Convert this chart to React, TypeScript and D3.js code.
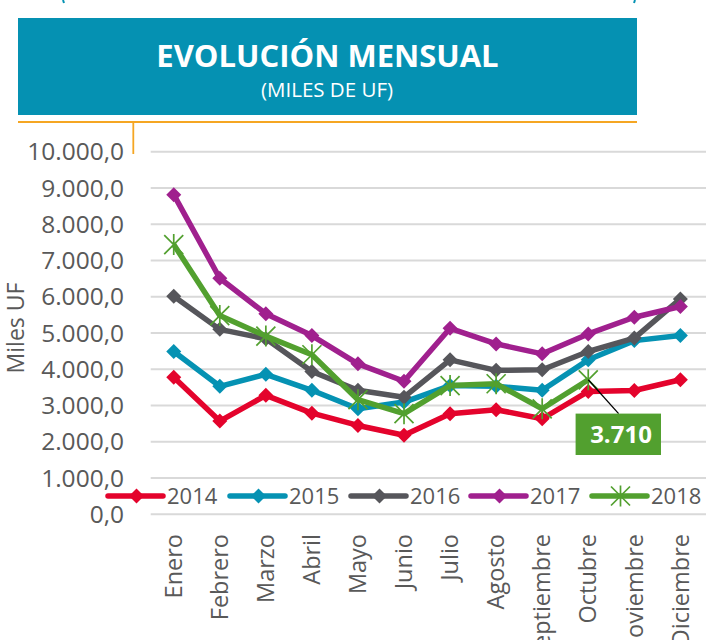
import React from "react";
import * as d3 from "d3";

const months = ["Enero","Febrero","Marzo","Abril","Mayo","Junio","Julio","Agosto","Septiembre","Octubre","Noviembre","Diciembre"];
const yTicks = [0,1000,2000,3000,4000,5000,6000,7000,8000,9000,10000];
const years = ["2014","2015","2016","2017","2018"];
const s2014 = [3780,2570,3280,2790,2450,2180,2775,2885,2635,3390,3415,3710];
const s2015 = [4490,3530,3860,3420,2910,3095,3550,3530,3420,4260,4790,4930];
const s2016 = [6015,5100,4840,3940,3420,3230,4260,3970,3985,4490,4860,5940];
const s2017 = [8815,6510,5530,4930,4150,3670,5130,4700,4425,4975,5435,5730];
const s2018 = [7440,5480,4915,4400,3160,2775,3550,3600,2910,3710];
const colors = ["#E4032C","#0592B3","#56565B","#A0208E","#52A02F"];
const annotationLabel = "3.710";

const W = 706, H = 640;
const FONT = "'Open Sans', sans-serif";

export default function App() {
  const series = [s2014, s2015, s2016, s2017, s2018];
  const x = d3.scaleBand<string>().domain(months).range([150.7, 703.4]).padding(0);
  const cx = (m: string) => (x(m) as number) + x.bandwidth() / 2;
  const y = d3.scaleLinear().domain([0, 10000]).range([514.3, 151.7]);
  const fmt = (v: number) => {
    const s = d3.format(",.1f")(v);
    return s.replace(/,/g, "#").replace(".", ",").replace(/#/g, ".");
  };
  const line = d3.line<number>().x((_, i) => cx(months[i])).y((d) => y(d));
  const diamond = "M0,-7.5L7.5,0L0,7.5L-7.5,0Z";
  const star = "M-9.5,-9.5L9.5,9.5M-9.5,9.5L9.5,-9.5M0,-10.5L0,10.5";

  const marker = (k: number, px: number, py: number, key: string) =>
    k === 4 ? (
      <path key={key} d={star} transform={`translate(${px},${py})`} stroke={colors[k]} strokeWidth={1.7} fill="none" />
    ) : (
      <path key={key} d={diamond} transform={`translate(${px},${py})`} fill={colors[k]} />
    );

  const legendX = [108, 230, 351, 471, 592];
  const lastIdx = s2018.length - 1;
  const ax = cx(months[lastIdx]);
  const ay = y(s2018[lastIdx]);

  return (
    <svg width={W} height={H} style={{ display: "block", position: "absolute", left: 0, top: 0 }} fontFamily={FONT}>
      <rect x={0} y={0} width={W} height={H} fill="#ffffff" />
      {/* top bracket ends */}
      <path d="M63,0 L64,3" stroke="#0592B3" strokeWidth={2} fill="none" />
      <path d="M635,0 L634,3" stroke="#0592B3" strokeWidth={2} fill="none" />
      {/* header */}
      <rect x={18} y={18} width={619} height={97} fill="#0591B2" />
      <text x={327.5} y={66.5} textAnchor="middle" fill="#ffffff" fontWeight={700} fontSize={31}>EVOLUCIÓN MENSUAL</text>
      <text x={327} y={97} textAnchor="middle" fill="#ffffff" fontSize={20.5}>(MILES DE UF)</text>
      {/* orange rule */}
      <line x1={18} x2={637} y1={122} y2={122} stroke="#F5A623" strokeWidth={1.8} />
      <line x1={133.3} x2={133.3} y1={122} y2={154} stroke="#F5A623" strokeWidth={1.8} />
      {/* gridlines */}
      {yTicks.map((t) => (
        <line key={"g" + t} x1={150.7} x2={706} y1={y(t)} y2={y(t)} stroke="#D9D9D9" strokeWidth={2} />
      ))}
      {/* y tick labels */}
      {yTicks.map((t) => (
        <text key={"t" + t} x={124} y={y(t)} dy="0.35em" textAnchor="end" fill="#595959" fontSize={24.5}>{fmt(t)}</text>
      ))}
      {/* y title */}
      <text transform="translate(23.5,328) rotate(-90)" textAnchor="middle" fill="#595959" fontSize={23}>Miles UF</text>
      {/* x labels */}
      {months.map((m) => (
        <text key={"x" + m} transform={`translate(${cx(m)},534) rotate(-90)`} dy="0.35em" textAnchor="end" fill="#595959" fontSize={23.5}>{m}</text>
      ))}
      {/* series */}
      {series.map((s, k) => (
        <g key={"s" + k}>
          <path d={line(s) as string} stroke={colors[k]} strokeWidth={5.5} fill="none" strokeLinejoin="round" />
          {s.map((v, i) => marker(k, cx(months[i]), y(v), `m${k}-${i}`))}
        </g>
      ))}
      {/* annotation */}
      <line x1={ax} y1={ay} x2={618.6} y2={413.6} stroke="#000000" strokeWidth={1.3} />
      <rect x={575.6} y={413.6} width={85.4} height={41.4} fill="#52A02F" />
      <text x={621} y={434.3} dy="0.35em" textAnchor="middle" fill="#ffffff" fontWeight={700} fontSize={24}>{annotationLabel}</text>
      {/* legend */}
      {years.map((yr, k) => (
        <g key={"l" + yr}>
          <line x1={legendX[k]} x2={legendX[k] + 55} y1={496} y2={496} stroke={colors[k]} strokeWidth={5.5} strokeLinecap="round" />
          {marker(k, legendX[k] + 28.5, 496, "lm" + k)}
          <text x={legendX[k] + 59} y={496} dy="0.35em" fill="#595959" fontSize={22}>{yr}</text>
        </g>
      ))}
    </svg>
  );
}
